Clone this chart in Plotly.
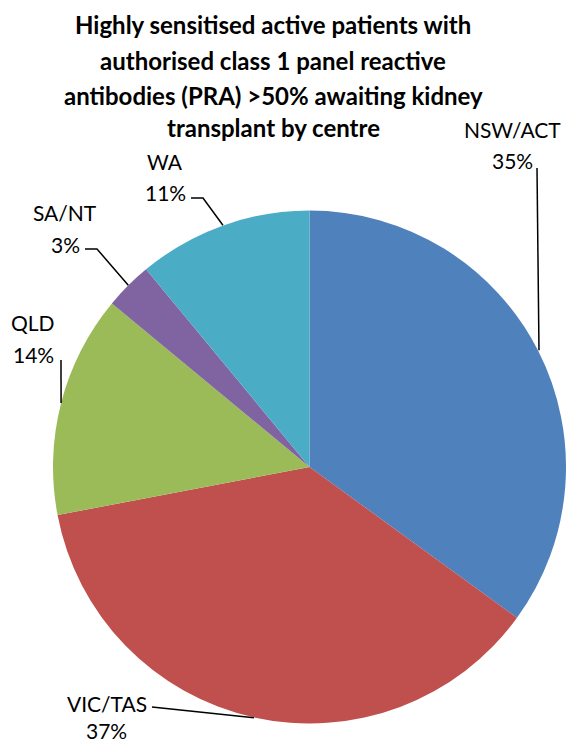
import math
import plotly.graph_objects as go

W, H = 566, 745

regions = ["NSW/ACT", "VIC/TAS", "QLD", "SA/NT", "WA"]
shares = [35, 37, 14, 3, 11]
colors = ["#4F81BD", "#C0504D", "#9BBB59", "#8064A2", "#4BACC6"]
title_lines = [
    "Highly sensitised active patients with",
    "authorised class 1 panel reactive",
    "antibodies (PRA) >50% awaiting kidney",
    "transplant by centre",
]

FONT = "Lato"

# pie geometry (pixels)
cx, cy, r = 310, 467, 257

def px(x):
    return x / W

def py(y):
    return 1 - y / H

fig = go.Figure(go.Pie(
    labels=regions,
    values=shares,
    sort=False,
    direction="clockwise",
    rotation=0,
    marker=dict(colors=colors, line=dict(width=0)),
    textinfo="none",
    hoverinfo="label+percent",
    showlegend=False,
    domain=dict(x=[px(cx - r), min(1.0, px(cx + r))], y=[py(cy + r), py(cy - r)]),
))

# label placement (pixel positions: name centre, pct centre, leader start points)
label_layout = {
    "NSW/ACT": dict(name=(512, 129), pct=(512, 160), lead=[(537, 168)]),
    "VIC/TAS": dict(name=(107, 703), pct=(106, 730), lead=[(152, 707)]),
    "QLD": dict(name=(33, 322), pct=(33, 354), lead=[(61, 360)]),
    "SA/NT": dict(name=(65, 213), pct=(65, 244), lead=[(85, 249), (97, 249)]),
    "WA": dict(name=(165, 162), pct=(165, 192), lead=[(191, 198), (203, 198)]),
}

total = sum(shares)
cum = 0
annotations = []
shapes = []
for name, val in zip(regions, shares):
    mid = (cum + val / 2) / total * 2 * math.pi
    cum += val
    ax = cx + r * math.sin(mid)
    ay = cy - r * math.cos(mid)
    lay = label_layout[name]
    pct = f"{round(val / total * 100)}%"
    for txt, (tx, ty) in ((name, lay["name"]), (pct, lay["pct"])):
        annotations.append(dict(
            x=px(tx), y=py(ty), xref="paper", yref="paper",
            text=txt, showarrow=False, xanchor="center", yanchor="middle",
            font=dict(family=FONT, size=21, color="#000000"),
        ))
    pts = lay["lead"] + [(ax, ay)]
    path = "M " + " L ".join(f"{px(x)},{py(y)}" for x, y in pts)
    shapes.append(dict(type="path", xref="paper", yref="paper", path=path,
                       line=dict(color="#000000", width=1.5)))

title_y = [25, 61, 95, 127]
for line, ty in zip(title_lines, title_y):
    annotations.append(dict(
        x=px(273), y=py(ty), xref="paper", yref="paper",
        text=f"<b>{line}</b>", showarrow=False, xanchor="center", yanchor="middle",
        font=dict(family=FONT, size=24, color="#000000"),
    ))

fig.update_layout(
    width=W, height=H,
    margin=dict(l=0, r=0, t=0, b=0),
    paper_bgcolor="white",
    plot_bgcolor="white",
    annotations=annotations,
    shapes=shapes,
)

fig.write_html(
    "out.html",
    config={"displayModeBar": False},
    post_script="document.body.style.margin='0';document.body.style.overflow='hidden';",
)
